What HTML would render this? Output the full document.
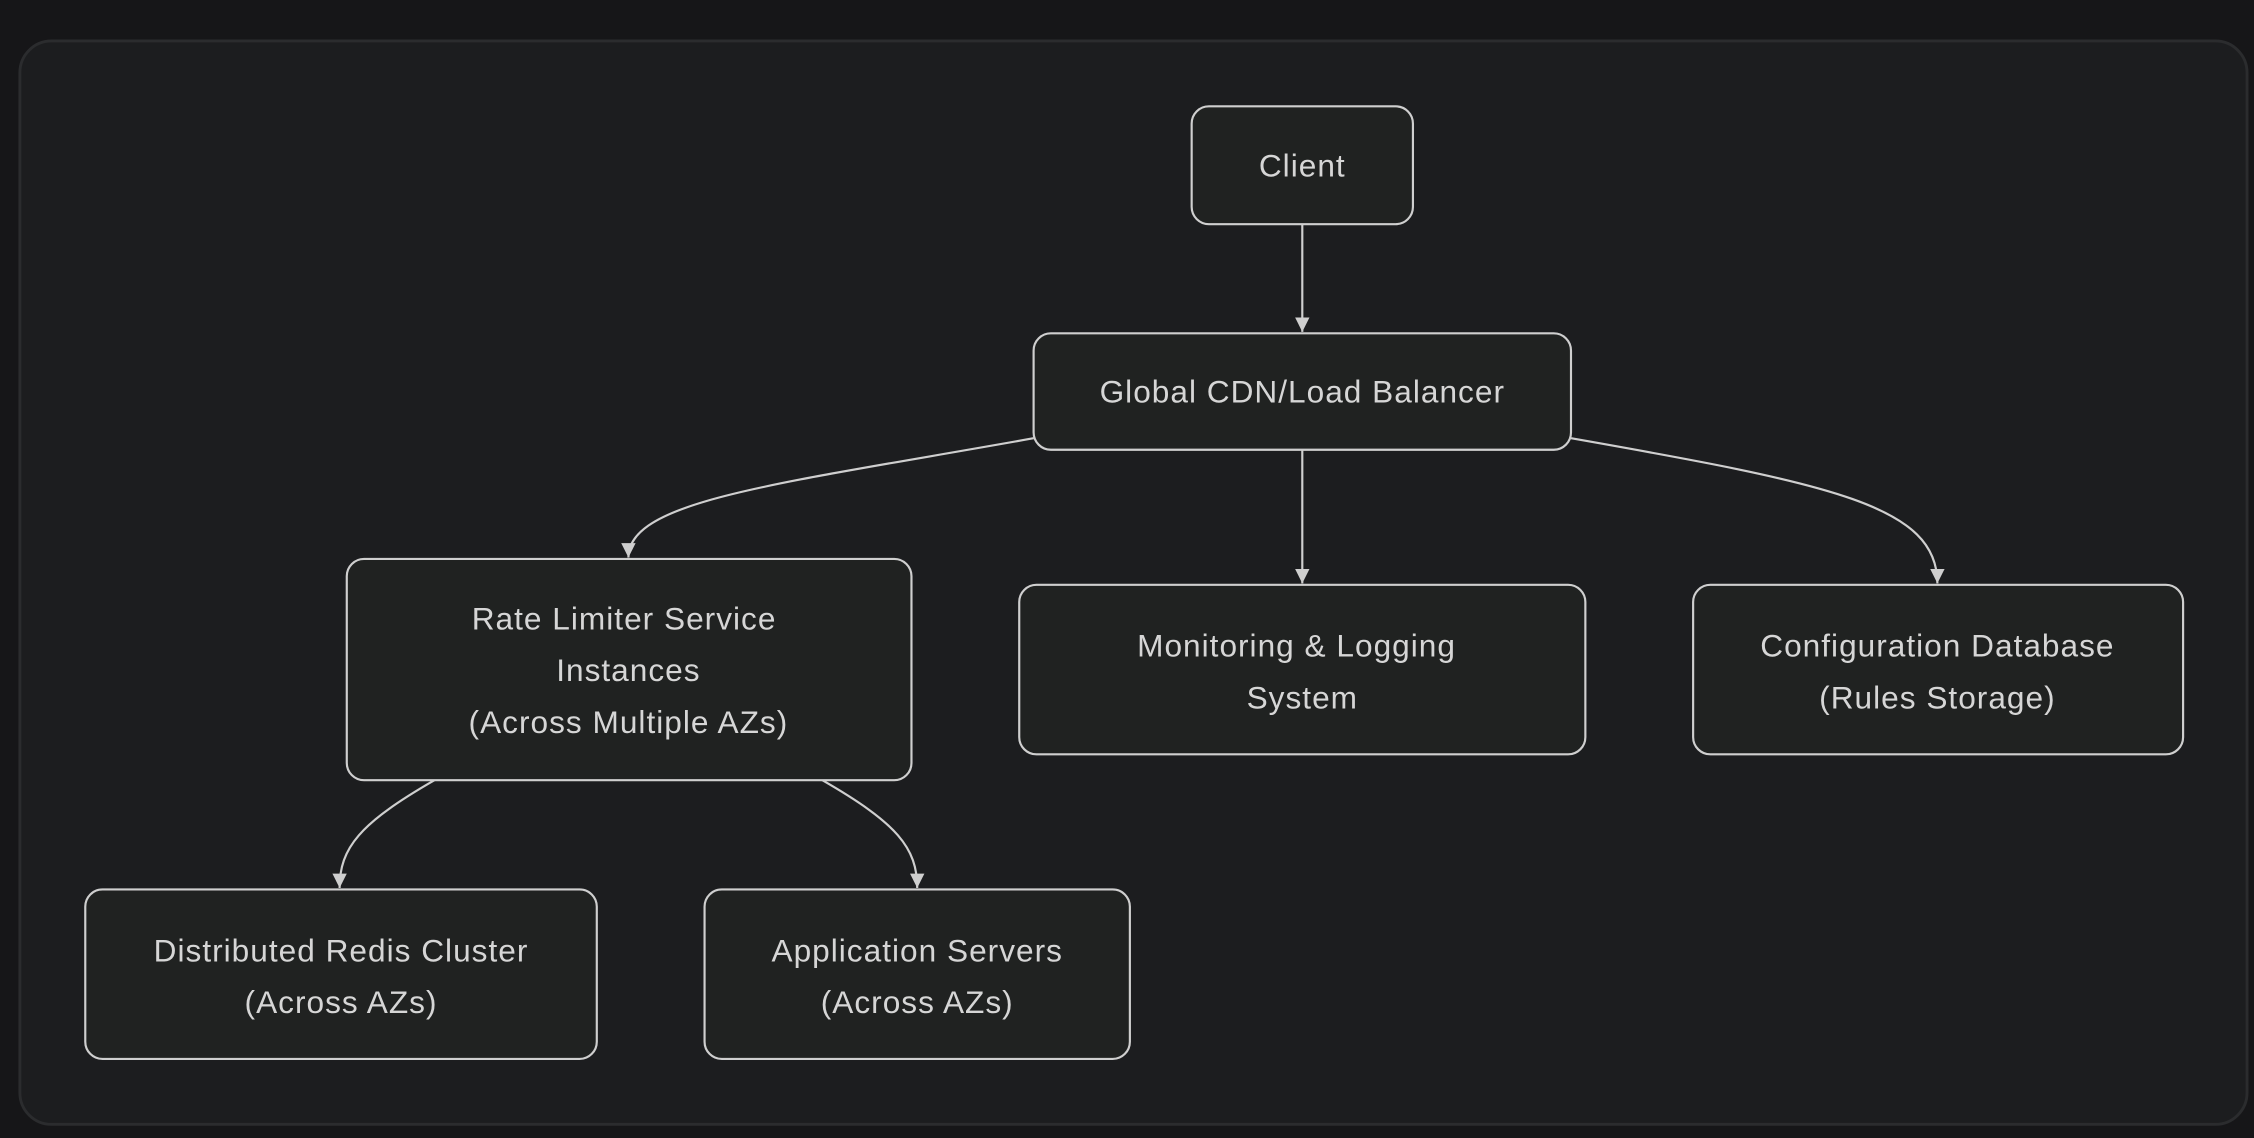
<!DOCTYPE html>
<html><head><meta charset="utf-8"><style>
html,body{margin:0;padding:0;background:#161618;width:2254px;height:1138px;overflow:hidden}
svg{display:block}
text{font-family:"Liberation Sans",sans-serif;font-size:22px;letter-spacing:0.7px;fill:#d6d6d6;text-anchor:middle}
</style></head><body>
<svg width="2254" height="1138" viewBox="0 0 1568 792" xmlns="http://www.w3.org/2000/svg">
<defs><marker id="a" viewBox="0 0 10 10" refX="10" refY="5" markerWidth="10" markerHeight="10" markerUnits="userSpaceOnUse" orient="auto"><path d="M0,0L10,5L0,10z" fill="#cfcfcf"/></marker></defs>
<rect x="0" y="0" width="1568" height="792" fill="#161618"/>
<rect x="13.5" y="28.5" width="1550" height="754" rx="22" fill="#1c1d1f" stroke="#2b2c2e" stroke-width="2"/>
<g fill="none" stroke="#cfcfcf" stroke-width="1.5">
<path d="M906,156V231" marker-end="url(#a)"/>
<path d="M906,313V406" marker-end="url(#a)"/>
<path d="M719,305C540,337 437,348 437,388" marker-end="url(#a)"/>
<path d="M1093,305C1275,337 1348,352 1348,406" marker-end="url(#a)"/>
<path d="M302,543C250,573 236,590 236,618" marker-end="url(#a)"/>
<path d="M572,543C624,573 638,590 638,618" marker-end="url(#a)"/>
</g>
<g fill="#202221" stroke="#cfcfcf" stroke-width="1.5">
<rect x="829" y="74" width="154" height="82" rx="12"/>
<rect x="719" y="232" width="374" height="81" rx="12"/>
<rect x="241" y="389" width="393" height="154" rx="12"/>
<rect x="709" y="407" width="394" height="118" rx="12"/>
<rect x="1178" y="407" width="341" height="118" rx="12"/>
<rect x="59" y="619" width="356" height="118" rx="12"/>
<rect x="490" y="619" width="296" height="118" rx="12"/>
</g>
<text x="906" y="123">Client</text>
<text x="906" y="280">Global CDN/Load Balancer</text>
<text x="434" y="438">Rate Limiter Service</text>
<text x="437" y="474">Instances</text>
<text x="437" y="510">(Across Multiple AZs)</text>
<text x="902" y="457">Monitoring &amp; Logging</text>
<text x="906" y="493">System</text>
<text x="1348" y="457">Configuration Database</text>
<text x="1348" y="493">(Rules Storage)</text>
<text x="237" y="669">Distributed Redis Cluster</text>
<text x="237" y="705">(Across AZs)</text>
<text x="638" y="669">Application Servers</text>
<text x="638" y="705">(Across AZs)</text>
</svg>
</body></html>
